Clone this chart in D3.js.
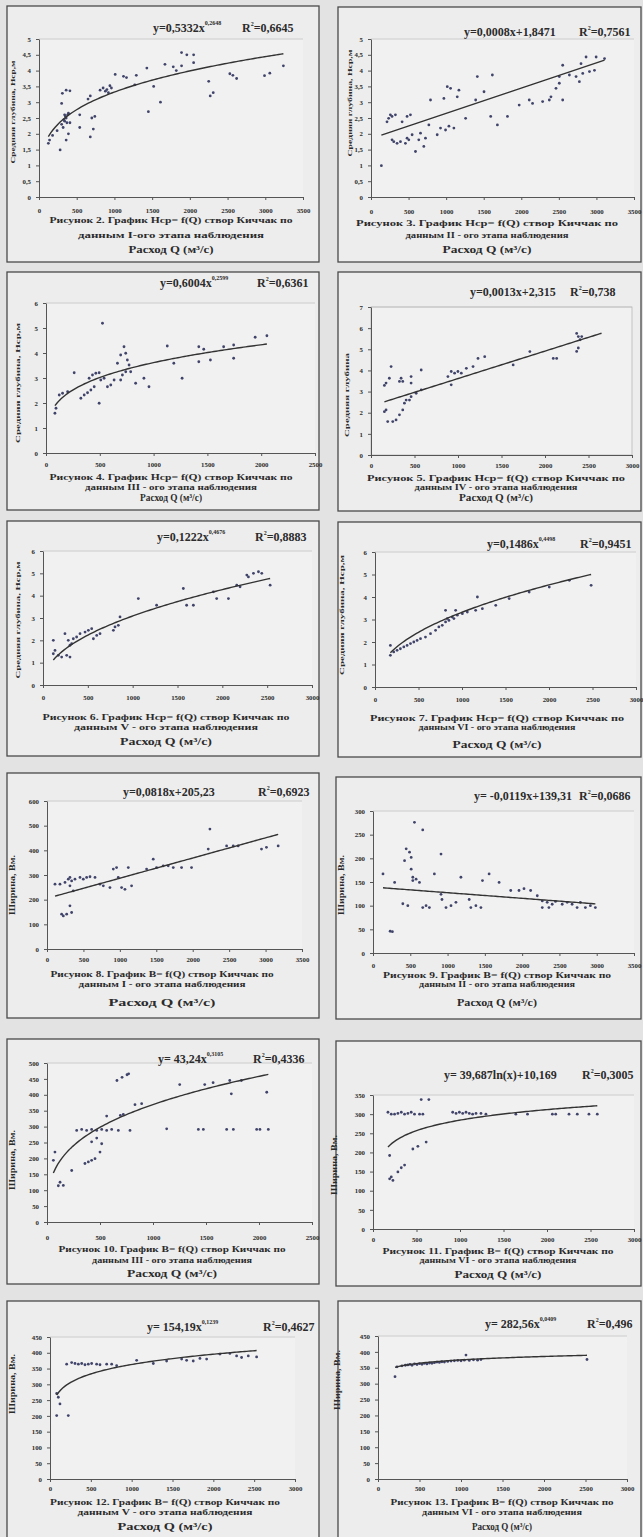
<!DOCTYPE html>
<html>
<head>
<meta charset="utf-8">
<script src="https://cdn.jsdelivr.net/npm/d3@7"></script>
<style>
  html, body { margin: 0; padding: 0; background: #e3e3e3; }
  svg { display: block; }
  text { font-family: "Liberation Serif", "Times New Roman", serif; font-weight: bold; fill: #2b2b2b; }
</style>
</head>
<body>
<svg id="chart" width="643" height="1537"></svg>
<script>
// ---- Observations: discharge Q (m3/s) vs mean depth Hср (m) and width B (m) ----
const q1 = [124,140,180,240,280,300,310,360,410,340,360,390,340,300,410,390,360,540,540,650,680,700,720,680,740,810,850,900,920,940,1010,1120,1160,1290,1270,1430,1450,1520,1610,1670,1780,1820,1890,1890,1960,2050,2050,2250,2270,2310,2530,2570,2620,2990,3060,3240,330,350,370,320,380,880,960];
const h1 = [1.70,1.80,1.95,2.10,1.49,2.96,3.28,3.38,3.36,2.60,2.50,2.65,2.40,2.30,2.35,2.00,1.80,2.20,2.60,3.10,3.20,2.50,2.15,1.90,2.55,3.38,3.45,3.40,3.30,3.52,3.88,3.82,3.78,3.85,3.55,4.08,2.70,3.50,3.00,4.20,4.12,4.00,4.15,4.57,4.50,4.50,4.25,3.66,3.20,3.30,3.90,3.85,3.75,3.84,3.92,4.15,2.45,2.55,2.35,2.20,2.60,3.35,3.45];

const q2 = [138,213,235,258,280,325,414,480,525,280,303,347,392,458,503,480,547,592,636,659,703,725,770,792,881,925,970,1015,1059,1148,1170,992,1037,1103,1259,1393,1415,1504,1615,1593,1682,1816,1972,2106,2150,2284,2373,2395,2462,2551,2506,2551,2506,2640,2729,2773,2795,2818,2862,2907,2974,2996,3108];
const h2 = [0.99,2.38,2.49,2.60,2.55,2.60,2.38,2.55,2.60,1.81,1.75,1.70,1.75,1.70,1.81,1.86,1.97,1.44,1.81,2.02,1.60,1.86,2.28,3.07,1.97,2.18,3.12,3.49,3.44,3.17,3.38,2.12,2.24,2.18,2.49,3.07,3.81,3.33,3.86,2.55,2.28,2.55,2.91,3.07,2.96,3.02,3.07,3.17,3.44,3.07,3.60,4.17,3.81,3.86,3.81,3.65,4.22,3.91,4.43,3.97,4.01,4.43,4.38];

const q3 = [83,93,123,154,201,262,324,355,386,417,448,401,432,463,494,525,494,509,540,571,602,633,664,694,725,741,756,741,710,772,694,787,833,910,957,1127,1188,1265,1420,1466,1420,1528,1651,1744,1744,1944,2053];
const h3 = [1.59,1.79,2.32,2.39,2.45,3.21,2.19,2.32,2.41,2.52,2.65,2.99,3.12,3.19,3.21,5.19,1.99,2.92,2.99,2.65,2.72,2.92,3.59,3.92,4.25,3.99,3.72,3.25,3.12,3.52,2.92,3.25,2.79,2.99,2.65,4.28,3.59,2.99,4.25,4.15,3.65,3.72,4.25,4.32,3.79,4.63,4.69];

const q4 = [154,173,211,231,173,154,192,250,288,327,365,346,365,327,461,461,577,404,461,519,577,384,442,884,922,922,961,999,1038,1096,1173,1230,1307,1634,1826,2095,2134,2364,2383,2403,2383,2364,2422];
const h4 = [3.29,3.40,3.63,4.18,2.13,2.05,1.58,1.58,1.66,1.90,2.13,3.63,3.48,3.48,3.71,3.40,4.02,2.60,2.76,2.92,3.08,2.45,2.60,3.71,3.95,3.32,3.87,3.95,3.87,4.10,4.18,4.57,4.65,4.26,4.89,4.57,4.57,5.75,5.60,5.45,5.06,4.90,5.60];

const q5 = [115,134,171,208,264,301,115,245,282,301,320,338,375,413,469,506,543,562,599,636,785,803,840,859,1063,1267,1565,1602,1677,1900,1937,2068,2161,2273,2291,2347,2403,2440,2533,2198];
const h5 = [1.40,1.55,1.33,1.25,1.33,1.25,2.00,2.30,2.00,1.78,1.85,2.07,2.15,2.30,2.37,2.45,2.52,2.07,2.22,2.30,2.45,2.60,2.67,3.05,3.87,3.57,4.32,3.57,3.57,4.17,3.87,3.87,4.47,4.92,4.84,5.00,5.07,5.00,4.47,4.40];

const q6 = [177,215,254,292,331,369,408,446,484,523,580,638,696,734,773,811,830,850,888,907,946,811,927,1004,1061,1157,1177,1234,1388,1542,1772,2003,2234,2484,177];
const h6 = [1.41,1.56,1.63,1.70,1.78,1.85,1.93,2.00,2.07,2.15,2.22,2.37,2.52,2.67,2.74,2.89,3.04,2.96,3.11,3.04,3.19,3.41,3.41,3.26,3.33,3.41,4.00,3.48,3.63,3.93,4.22,4.44,4.74,4.52,1.85];

const q7 = [110,178,247,292,315,338,384,453,498,544,590,659,315,361,315,270,201,224,338,727,773,864,910,955,978,1024,1070,1116,1161,1367,1458,1504,1596,1664,1733,1847,1984,2236,2213,2465,2556,2624,2944,3012,3173];
const b7 = [263,263,270,283,290,276,283,290,283,290,293,290,256,236,175,141,141,134,148,263,256,249,324,330,290,249,242,330,256,324,364,330,337,337,330,330,330,486,405,418,418,418,405,412,418];

const q8 = [134,290,556,667,445,490,512,423,512,534,578,623,534,823,912,400,467,712,667,756,912,925,979,1046,1112,1179,1290,1312,1380,1447,1468,1557,1691,1847,1958,2025,2114,2203,2270,2336,2403,2447,2537,2604,2670,2737,2781,2848,2915,2982,2359,2270,230,260];
const b8 = [167,149,276,260,220,213,202,195,177,160,156,149,153,167,209,104,100,100,96,96,124,113,96,100,107,160,113,96,100,96,153,167,149,132,132,136,132,121,110,107,103,109,103,107,103,96,107,96,100,96,96,96,46,45];

const q9 = [60,75,123,154,107,233,358,390,421,453,500,516,421,469,280,327,374,421,469,516,563,610,673,783,1129,1428,1475,1695,1758,1978,2009,2088,563,692,720,830,893,660,708,755,770,1252,1488,1567,1724,1834,1739,2073];
const b9 = [194,220,125,115,114,162,184,189,194,199,220,246,252,264,288,291,288,291,288,291,288,291,288,288,293,291,291,291,291,291,291,291,333,335,338,369,372,445,455,463,466,432,432,438,445,445,403,408];

const q10 = [172,210,248,286,325,363,401,439,477,535,573,554,642,916,955,993,1031,1069,1107,1145,1184,1241,1298,1642,1776,2062,2100,2253,2348,2482,2578,191,458,516,611,286,325,363,210,229,191];
const b10 = [305,300,300,302,305,300,302,305,300,300,300,338,338,305,302,305,302,305,302,300,302,302,300,300,300,300,300,300,300,300,300,192,209,216,227,149,160,167,136,127,131];

const q11 = [82,102,122,82,224,204,265,306,347,388,428,469,510,571,612,694,755,816,1061,1265,1612,1673,1754,1836,1918,2081,2203,2285,2346,2428,2530,1428];
const b11 = [271,259,238,201,201,364,369,366,364,366,362,364,366,364,362,364,364,359,376,366,380,376,374,382,380,396,398,390,385,390,387,374];

const q12 = [205,229,289,330,360,385,410,440,470,500,530,560,590,620,650,680,710,740,770,800,840,880,920,960,1000,1040,1060,1100,1150,1200,1240,2518];
const b12 = [322,353,356,358,359,361,358,362,360,363,361,364,362,365,364,366,368,367,369,368,370,371,372,373,372,374,390,373,375,374,376,376];

// ---- Trend lines (Excel-style) ----
const fit1  = { kind: "power",  a: 0.5332,  b: 0.2648, r2: 0.6645 };
const fit2  = { kind: "linear", a: 0.0008,  c: 1.8471, r2: 0.7561 };
const fit3  = { kind: "power",  a: 0.6004,  b: 0.2599, r2: 0.6361 };
const fit4  = { kind: "linear", a: 0.0013,  c: 2.315,  r2: 0.738 };
const fit5  = { kind: "power",  a: 0.1222,  b: 0.4676, r2: 0.8883 };
const fit6  = { kind: "power",  a: 0.1486,  b: 0.4498, r2: 0.9451 };
const fit7  = { kind: "linear", a: 0.0818,  c: 205.23, r2: 0.6923 };
const fit8  = { kind: "linear", a: -0.0119, c: 139.31, r2: 0.0686 };
const fit9  = { kind: "power",  a: 43.24,   b: 0.3105, r2: 0.4336 };
const fit10 = { kind: "log",    a: 39.687,  c: 10.169, r2: 0.3005 };
const fit11 = { kind: "power",  a: 154.19,  b: 0.1239, r2: 0.4627 };
const fit12 = { kind: "power",  a: 282.56,  b: 0.0409, r2: 0.496 };

// ---- Axis ticks ----
const hTicks5 = [0, 0.5, 1, 1.5, 2, 2.5, 3, 3.5, 4, 4.5, 5];
const hTicks6 = [0, 1, 2, 3, 4, 5, 6];
const hTicks7 = [0, 1, 2, 3, 4, 5, 6, 7];
const bTicks600 = [0, 100, 200, 300, 400, 500, 600];
const bTicks300 = [0, 50, 100, 150, 200, 250, 300];
const bTicks500 = [0, 50, 100, 150, 200, 250, 300, 350, 400, 450, 500];
const bTicks350 = [0, 50, 100, 150, 200, 250, 300, 350];
const bTicks450 = [0, 50, 100, 150, 200, 250, 300, 350, 400, 450];
const qTicks2500 = [0, 500, 1000, 1500, 2000, 2500];
const qTicks3000 = [0, 500, 1000, 1500, 2000, 2500, 3000];
const qTicks3500 = [0, 500, 1000, 1500, 2000, 2500, 3000, 3500];

// ---- Texts ----
const captions = [
  ["Рисунок 2. График Нср= f(Q) створ Киччак по", "данным I-ого этапа наблюдения"],
  ["Рисунок 3. График Нср= f(Q) створ Киччак по", "данным II - ого этапа наблюдения"],
  ["Рисунок 4. График Нср= f(Q) створ Киччак по", "данным III - ого этапа наблюдения"],
  ["Рисунок 5. График Нср= f(Q) створ Киччак по", "данным IV - ого этапа наблюдения"],
  ["Рисунок 6. График Нср= f(Q) створ Киччак по", "данным V - ого этапа наблюдения"],
  ["Рисунок 7. График Нср= f(Q) створ Киччак по", "данным VI - ого этапа наблюдения"],
  ["Рисунок 8. График B= f(Q) створ Киччак по", "данным I - ого этапа наблюдения"],
  ["Рисунок 9. График B= f(Q) створ Киччак по", "данным II - ого этапа наблюдения"],
  ["Рисунок 10. График B= f(Q) створ Киччак по", "данным III - ого этапа наблюдения"],
  ["Рисунок 11. График B= f(Q) створ Киччак по", "данным VI - ого этапа наблюдения"],
  ["Рисунок 12. График B= f(Q) створ Киччак по", "данным V - ого этапа наблюдения"],
  ["Рисунок 13. График B= f(Q) створ Киччак по", "данным VI - ого этапа наблюдения"]
];
const xTitle = "Расход Q (м³/с)";
const yTitleDepth = "Средняя глубина, Нср,м";
const yTitleDepthShort = "Средняя глубина";
const yTitleWidth = "Ширина, Вм.";

// ---- Page layout of the twelve framed charts ----
const layout = [
  { box:[7,6,319,262],      xr:[39,303],  yr:[197,39],    xGap:13, eq:[153,32],   rX:242, cx:171, cap:[223,238,253],    capW:[243,186,85], yt:[15,112,103],  pre:"y=" },
  { box:[338,7,641,262],    xr:[371,634], yr:[197,39],    xGap:14, eq:[464,36],   rX:579, cx:487, cap:[226,238,253],    capW:[262,163,89], yt:[352,103,107], pre:"y=" },
  { box:[7,272,319,510],    xr:[46,315],  yr:[453,303],   xGap:11, eq:[160,287],  rX:257, cx:171, cap:[480,490,501],    capW:[243,172,62], yt:[20,383,120],  pre:"y=" },
  { box:[338,272,641,511],  xr:[371,632], yr:[455,307],   xGap:10, eq:[470,296],  rX:570, cx:496, cap:[481,490,501],    capW:[258,163,74], yt:[349,395,84],  pre:"y=", frame:true, trendTo:2650 },
  { box:[7,521,319,756],    xr:[43,312],  yr:[685,551],   xGap:12, eq:[157,541],  rX:255, cx:166, cap:[720,730,745],    capW:[247,184,92], yt:[20,620,117],  pre:"y=" },
  { box:[338,522,641,757],  xr:[375,636], yr:[687,552],   xGap:12, eq:[487,548],  rX:580, cx:497, cap:[721,730,748],    capW:[254,157,89], yt:[344,615,120], pre:"y=" },
  { box:[7,773,319,1018],   xr:[47,302],  yr:[949,801],   xGap:10, eq:[123,796],  rX:258, cx:162, cap:[977,987,1006],   capW:[223,167,107],yt:[15,885,60],   pre:"y=" },
  { box:[336,777,641,1019], xr:[373,634], yr:[953,811],   xGap:12, eq:[474,800],  rX:579, cx:497, cap:[978,987,1006],   capW:[228,156,80], yt:[344,885,60],  pre:"y= " },
  { box:[7,1039,319,1284],  xr:[47,312],  yr:[1222,1063], xGap:15, eq:[158,1063], rX:253, cx:172, cap:[1252,1263,1277], capW:[227,160,90], yt:[15,1160,60],  pre:"y= " },
  { box:[336,1041,641,1286],xr:[373,634], yr:[1229,1095], xGap:10, eq:[444,1079], rX:582, cx:498, cap:[1254,1263,1278], capW:[231,157,87], yt:[337,1165,60], pre:"y= " },
  { box:[7,1301,319,1545],  xr:[50,295],  yr:[1479,1337], xGap:9,  eq:[147,1331], rX:263, cx:165, cap:[1505,1515,1530], capW:[230,175,95], yt:[15,1384,60],  pre:"y= " },
  { box:[338,1301,641,1545],xr:[378,627], yr:[1479,1336], xGap:9,  eq:[485,1328], rX:587, cx:502, cap:[1505,1515,1530], capW:[223,160,60], yt:[340,1380,60], pre:"y= " }
];

const series = [
  { q:q1,  v:h1,  fit:fit1,  xt:qTicks3500, yt:hTicks5,   ytl:yTitleDepth },
  { q:q2,  v:h2,  fit:fit2,  xt:qTicks3500, yt:hTicks5,   ytl:yTitleDepth },
  { q:q3,  v:h3,  fit:fit3,  xt:qTicks2500, yt:hTicks6,   ytl:yTitleDepth },
  { q:q4,  v:h4,  fit:fit4,  xt:qTicks3000, yt:hTicks7,   ytl:yTitleDepthShort },
  { q:q5,  v:h5,  fit:fit5,  xt:qTicks3000, yt:hTicks6,   ytl:yTitleDepth },
  { q:q6,  v:h6,  fit:fit6,  xt:qTicks3000, yt:hTicks6,   ytl:yTitleDepth },
  { q:q7,  v:b7,  fit:fit7,  xt:qTicks3500, yt:bTicks600, ytl:yTitleWidth },
  { q:q8,  v:b8,  fit:fit8,  xt:qTicks3500, yt:bTicks300, ytl:yTitleWidth },
  { q:q9,  v:b9,  fit:fit9,  xt:qTicks2500, yt:bTicks500, ytl:yTitleWidth },
  { q:q10, v:b10, fit:fit10, xt:qTicks3000, yt:bTicks350, ytl:yTitleWidth },
  { q:q11, v:b11, fit:fit11, xt:qTicks3000, yt:bTicks450, ytl:yTitleWidth },
  { q:q12, v:b12, fit:fit12, xt:qTicks3000, yt:bTicks450, ytl:yTitleWidth }
];

const comma = v => String(v).replace(".", ",");

function fitValue(f, x) {
  if (f.kind === "power") return f.a * Math.pow(x, f.b);
  if (f.kind === "log") return f.a * Math.log(x) + f.c;
  return f.a * x + f.c;
}

const svg = d3.select("#chart");
svg.append("rect").attr("width", 643).attr("height", 1537).attr("fill", "#e3e3e3");

series.forEach((s, i) => {
  const L = layout[i];
  const g = svg.append("g");

  // frame
  g.append("rect")
    .attr("x", L.box[0]).attr("y", L.box[1])
    .attr("width", L.box[2] - L.box[0]).attr("height", L.box[3] - L.box[1])
    .attr("fill", "#ededed").attr("stroke", "#4a4a4a").attr("stroke-width", 1.3);

  const x = d3.scaleLinear().domain([0, d3.max(s.xt)]).range(L.xr);
  const y = d3.scaleLinear().domain([0, d3.max(s.yt)]).range(L.yr);

  // plot area
  g.append("rect")
    .attr("x", L.xr[0]).attr("y", L.yr[1])
    .attr("width", L.xr[1] - L.xr[0]).attr("height", L.yr[0] - L.yr[1])
    .attr("fill", "#f1f1f1")
    .attr("stroke", L.frame ? "#b8b8b8" : "none").attr("stroke-width", 0.8);
  g.append("line")
    .attr("x1", L.xr[0]).attr("x2", L.xr[1])
    .attr("y1", L.yr[1]).attr("y2", L.yr[1])
    .attr("stroke", "#c4c4c4").attr("stroke-width", 0.8);

  // axes
  const xAxis = d3.axisBottom(x).tickValues(s.xt).tickFormat(d => d)
    .tickSize(3).tickSizeOuter(0).tickPadding(Math.max(1, L.xGap - 5.3));
  const gx = g.append("g").attr("transform", `translate(0,${L.yr[0]})`).call(xAxis);
  const yAxis = d3.axisLeft(y).tickValues(s.yt).tickFormat(comma)
    .tickSize(3).tickSizeOuter(0).tickPadding(5);
  const gy = g.append("g").attr("transform", `translate(${L.xr[0]},0)`).call(yAxis);
  [gx, gy].forEach(ax => {
    ax.select(".domain").attr("stroke", "#555").attr("stroke-width", 1);
    ax.selectAll(".tick line").attr("stroke", "#555");
    ax.selectAll(".tick text")
      .attr("font-family", "Liberation Serif, serif").attr("font-weight", "bold")
      .attr("font-size", 6.8).attr("fill", "#333");
  });

  // points
  g.append("g").selectAll("circle")
    .data(s.q.map((qv, k) => [qv, s.v[k]]))
    .join("circle")
    .attr("cx", d => x(d[0])).attr("cy", d => y(d[1]))
    .attr("r", 1.4).attr("fill", "#41446a");

  // trend line
  const x0 = d3.min(s.q), x1 = L.trendTo || d3.max(s.q);
  const xs = d3.range(0, 101).map(k => x0 + (x1 - x0) * k / 100);
  const line = d3.line().x(d => x(d)).y(d => y(fitValue(s.fit, d)));
  g.append("path").datum(xs).attr("d", line)
    .attr("fill", "none").attr("stroke", "#333").attr("stroke-width", 1.4);

  // trend equation
  const f = s.fit;
  const eq = g.append("text").attr("x", L.eq[0]).attr("y", L.eq[1]).attr("font-size", 12);
  if (f.kind === "power") {
    eq.append("tspan").text(`${L.pre}${comma(f.a)}x`);
    eq.append("tspan").attr("dy", -7).attr("font-size", 6).text(comma(f.b));
  } else if (f.kind === "log") {
    eq.append("tspan").text(`${L.pre}${comma(f.a)}ln(x)+${comma(f.c)}`);
  } else {
    const pre = f.a < 0 ? L.pre + " " : L.pre;
    eq.append("tspan").text(`${pre}${comma(f.a)}x+${comma(f.c)}`);
  }
  const r = g.append("text").attr("x", L.rX).attr("y", L.eq[1]).attr("font-size", 12);
  r.append("tspan").text("R");
  r.append("tspan").attr("dy", -6).attr("font-size", 6).text("2");
  r.append("tspan").attr("dy", 6).text("=" + comma(f.r2));

  // y title
  const isWidth = s.ytl === yTitleWidth;
  g.append("text")
    .attr("transform", `translate(${L.yt[0]},${L.yt[1]}) rotate(-90)`)
    .attr("text-anchor", "middle")
    .attr("font-size", isWidth ? 8.5 : 6.5)
    .attr("textLength", L.yt[2]).attr("lengthAdjust", "spacingAndGlyphs")
    .text(s.ytl);

  // caption
  [captions[i][0], captions[i][1], xTitle].forEach((t, k) => {
    g.append("text")
      .attr("x", L.cx - L.capW[k] / 2).attr("y", L.cap[k])
      .attr("font-size", k === 2 ? 10.5 : 8)
      .attr("textLength", L.capW[k]).attr("lengthAdjust", "spacingAndGlyphs")
      .text(t);
  });
});
</script>
</body>
</html>
